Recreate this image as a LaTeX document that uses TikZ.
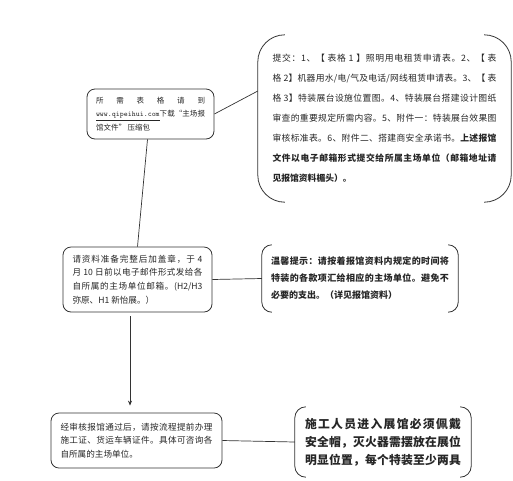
\documentclass[tikz,border=0pt]{standalone}
\usepackage{fontspec}
\setmainfont{Noto Sans CJK SC}
\usetikzlibrary{arrows.meta,calc}
\newXeTeXintercharclass\mycjkclass
\count255="4E00 \loop \XeTeXcharclass\count255=\mycjkclass \advance\count255 by 1 \ifnum\count255<"A000 \repeat
\count255="3000 \loop \XeTeXcharclass\count255=\mycjkclass \advance\count255 by 1 \ifnum\count255<"3040 \repeat
\count255="FF00 \loop \XeTeXcharclass\count255=\mycjkclass \advance\count255 by 1 \ifnum\count255<"FFF0 \repeat
\XeTeXinterchartokenstate=1
\XeTeXinterchartoks \mycjkclass \mycjkclass {\hskip 0pt plus 1pt\relax}
\XeTeXinterchartoks 0 \mycjkclass {\hskip 0pt plus 1pt\relax}
\XeTeXinterchartoks \mycjkclass 0 {\hskip 0pt plus 1pt\relax}
\newcommand\jl[1]{\hbox to \hsize{#1}}
\newcommand\nl[1]{\hbox{#1}}
\newcommand\tb[4]{\vbox{\hsize=#1pt\fontsize{#2}{#3}\selectfont #4}}
\tikzset{
  rbox/.style={draw=black!80, line width=0.8pt, rounded corners=8pt, inner sep=0pt, text=black!85},
  bbox/.style={inner sep=0pt, text=black!85},
  bline/.style={draw=black!80, line width=0.8pt},
  conn/.style={draw=black!80, line width=0.7pt},
}
\begin{document}
\begin{tikzpicture}[x=1pt,y=-1pt]
\useasboundingbox (0,0) rectangle (513,480);
% box 1
\node[rbox, minimum width=127pt, minimum height=50pt] (b1) at (150.5,114)
  {\tb{109}{7.5}{13.5}{%
   \jl{所\hfill 需\hfill 表\hfill 格\hfill 请\hfill 到}%
   \jl{\underline{\ttfamily www.qipeihui.com}下载“主场报}%
   \nl{馆文件” 压缩包}}};
% box 2
\node[bbox, minimum width=253pt, minimum height=167pt] (b2) at (384.5,118.5)
  {\tb{224}{8.8}{20}{%
   \jl{提交：1、【 表格 1 】照明用电租赁申请表。2、【 表}%
   \jl{格 2】机器用水/电/气及电话/网线租赁申请表。3、【 表}%
   \jl{格 3】特装展台设施位置图。4、特装展台搭建设计图纸}%
   \jl{审查的重要规定所需内容。5、附件一：特装展台效果图}%
   \jl{审核标准表。6、附件二、搭建商安全承诺书。\textbf{上述报馆}}%
   \jl{\textbf{文件以电子邮箱形式提交给所属主场单位（邮箱地址请}}%
   \nl{\textbf{见报馆资料楣头）。}}}};
\draw[bline, rounded corners=27pt] ($(b2.north west)+(27,0)$) -- (b2.north west) -- (b2.south west) -- ($(b2.south west)+(27,0)$);
\draw[bline, rounded corners=27pt] ($(b2.north east)+(-27,0)$) -- (b2.north east) -- (b2.south east) -- ($(b2.south east)+(-27,0)$);
% box 3
\node[rbox, minimum width=149pt, minimum height=65pt] (b3) at (137.5,279.5)
  {\tb{130}{8.6}{13.7}{%
   \jl{请资料准备完整后加盖章，于 4}%
   \jl{月 10 日前以电子邮件形式发给各}%
   \jl{自所属的主场单位邮箱。(H2/H3}%
   \nl{弥原、H1 新怡展。）}}};
% box 4
\node[bbox, minimum width=196pt, minimum height=67pt] (b4) at (360,278.5)
  {\tb{178}{9}{17}{\bfseries
   \jl{温馨提示：请按着报馆资料内规定的时间将}%
   \jl{特装的各款项汇给相应的主场单位。避免不}%
   \nl{必要的支出。（详见报馆资料）}}};
\draw[bline, rounded corners=10pt] ($(b4.north west)+(10,0)$) -- (b4.north west) -- (b4.south west) -- ($(b4.south west)+(10,0)$);
\draw[bline, rounded corners=10pt] ($(b4.north east)+(-10,0)$) -- (b4.north east) -- (b4.south east) -- ($(b4.south east)+(-10,0)$);
% box 5
\node[rbox, minimum width=171pt, minimum height=55pt] (b5) at (136.5,440.5)
  {\tb{152}{8.6}{13.5}{%
   \jl{经审核报馆通过后，请按流程提前办理}%
   \jl{施工证、货运车辆证件。具体可咨询各}%
   \nl{自所属的主场单位。}}};
% box 6
\node[bbox, minimum width=176pt, minimum height=70pt] (b6) at (383,442)
  {\tb{156}{11.8}{18}{\bfseries
   \jl{施工人员进入展馆必须佩戴}%
   \jl{安全帽，灭火器需摆放在展位}%
   \jl{明显位置，每个特装至少两具}}};
\draw[bline, rounded corners=11pt] ($(b6.north west)+(11,0)$) -- (b6.north west) -- (b6.south west) -- ($(b6.south west)+(11,0)$);
\draw[bline, rounded corners=11pt] ($(b6.north east)+(-11,0)$) -- (b6.north east) -- (b6.south east) -- ($(b6.south east)+(-11,0)$);
% connectors
\draw[conn] (b1.east) -- ($(b2.west)+(0,-27.5)$);
\draw[conn] ([xshift=-3pt]b1.south) -- (b3.north);
\draw[conn] (b3.east) -- (b4.west);
\draw[conn, -{Stealth[length=5pt,width=4pt]}, shorten <=4pt, shorten >=7pt] ([xshift=-7.5pt]b3.south) -- ([xshift=-7.5pt]b3.south |- b5.north);
\draw[conn] (b5.east) -- (b6.west);
\end{tikzpicture}
\end{document}
